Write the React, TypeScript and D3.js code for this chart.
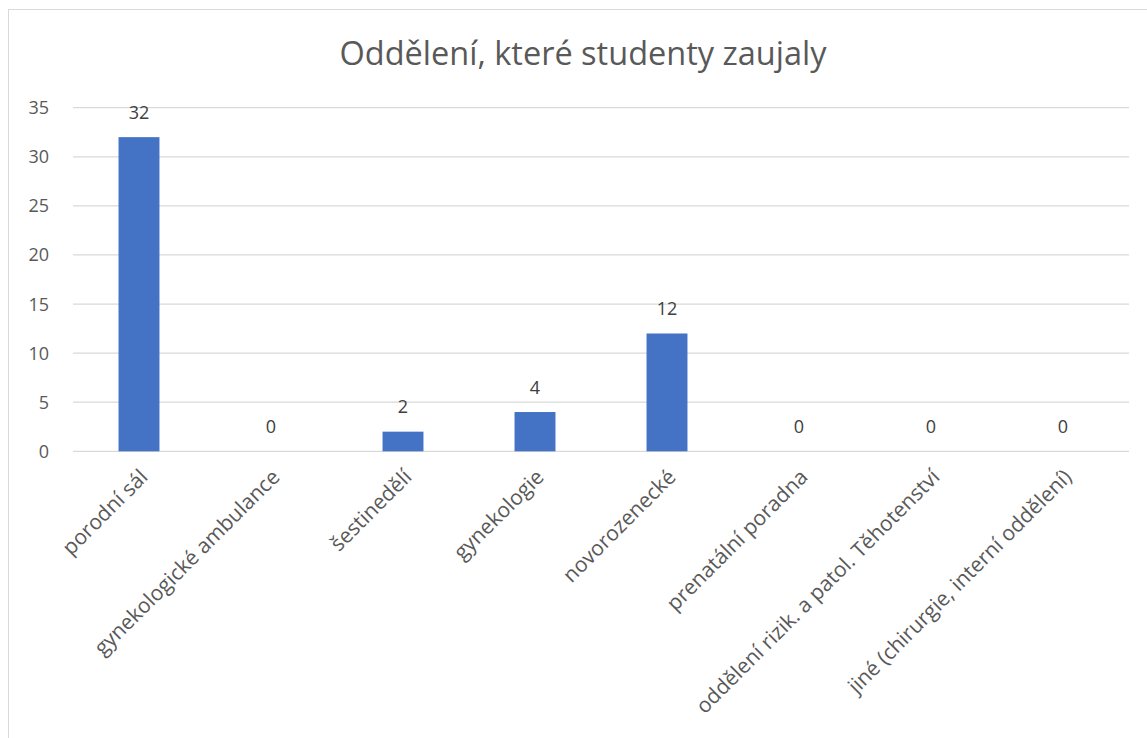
import React from "react";
import * as d3 from "d3";

const categories = [
  "porodní sál",
  "gynekologické ambulance",
  "šestinedělí",
  "gynekologie",
  "novorozenecké",
  "prenatální poradna",
  "oddělení rizik. a patol. Těhotenství",
  "jiné (chirurgie, interní oddělení)",
];
const values = [32, 0, 2, 4, 12, 0, 0, 0];
const yTicks = [0, 5, 10, 15, 20, 25, 30, 35];
const title = "Oddělení, které studenty zaujaly";

export default function App() {
  const W = 1147, H = 738;
  const left = 73, right = 1129, top = 107.7, bottom = 451.3;
  const x = d3.scaleBand<string>().domain(categories).range([left, right]).paddingInner(0.69).paddingOuter(0.345);
  const y = d3.scaleLinear().domain([0, 35]).range([bottom, top]);
  const font = "'Open Sans', 'Noto Sans', sans-serif";
  const textColor = "#595959";
  return (
    <svg width={W} height={H} style={{ position: "absolute", left: 0, top: 0 }} fontFamily={font}>
      <rect x={0} y={0} width={W} height={H} fill="#fff" />
      <rect x={8.5} y={9.5} width={W + 20} height={H + 20} fill="none" stroke="#d9d9d9" strokeWidth={1} />
      <text x={583} y={65} textAnchor="middle" fontSize={32.5} fill={textColor}>{title}</text>
      {yTicks.map((t) => (
        <g key={t}>
          <line x1={left} x2={right} y1={y(t)} y2={y(t)} stroke="#d9d9d9" strokeWidth={1.3} />
          <text x={49} y={y(t)} dy="0.36em" textAnchor="end" fontSize={18} fill={textColor}>{t}</text>
        </g>
      ))}
      {categories.map((c, i) => {
        const bx = x(c)!;
        const cx = bx + x.bandwidth() / 2;
        const v = values[i];
        return (
          <g key={c}>
            {v > 0 && <rect x={bx} y={y(v)} width={x.bandwidth()} height={y(0) - y(v)} fill="#4472C4" />}
            <text x={cx} y={y(v) - 18.5} textAnchor="middle" fontSize={18} fill="#404040">{v}</text>
            <text transform={`translate(${cx + 10},${bottom + 27}) rotate(-45)`} textAnchor="end" fontSize={21} fill={textColor}>{c}</text>
          </g>
        );
      })}
    </svg>
  );
}
